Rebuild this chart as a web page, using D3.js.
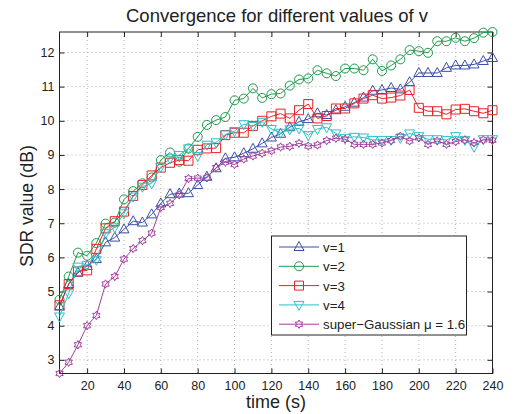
<!DOCTYPE html>
<html>
<head>
<meta charset="utf-8">
<script src="https://cdn.jsdelivr.net/npm/d3@7"></script>
<style>
body { margin: 0; background: #fff; }
text { font-family: "Liberation Sans", Arial, sans-serif; fill: #222; }
</style>
</head>
<body>
<svg id="chart" width="519" height="414"></svg>
<script>
const times = d3.range(5, 245, 5)

const v1 = [4.56, 5.22, 5.55, 5.75, 5.95, 6.44, 6.58, 6.82, 7.06, 7.02, 7.26, 7.58, 7.85, 7.87, 7.88, 8.12,
    8.36, 8.61, 8.9, 8.93, 9.05, 9.18, 9.34, 9.51, 9.62, 9.81, 9.97, 10.05, 10.22, 10.17, 10.31, 10.41,
    10.53, 10.68, 10.88, 10.9, 10.96, 10.92, 11.13, 11.4, 11.4, 11.4, 11.55, 11.62, 11.62, 11.65, 11.75, 11.84]
const v2 = [4.76, 5.44, 6.14, 6.05, 6.42, 6.99, 7.02, 7.7, 7.94, 8.17, 8.34, 8.85, 9.07, 8.8, 9.19, 9.53,
    9.88, 10.02, 10.11, 10.6, 10.65, 10.95, 10.67, 10.78, 10.8, 11.03, 11.21, 11.24, 11.48, 11.39, 11.31, 11.53,
    11.53, 11.48, 11.8, 11.46, 11.62, 11.8, 12.07, 12.04, 11.99, 12.33, 12.33, 12.43, 12.33, 12.42, 12.58, 12.6]
const v3 = [4.6, 5.22, 5.59, 5.62, 6.25, 6.85, 7.06, 7.34, 7.8, 8.12, 8.4, 8.63, 8.77, 8.85, 8.83, 9.15,
    9.19, 9.2, 9.58, 9.65, 9.65, 9.85, 10.0, 10.13, 10.21, 10.07, 10.31, 10.49, 10.07, 10.14, 10.36, 10.36,
    10.51, 10.65, 10.75, 10.65, 10.68, 10.74, 10.9, 10.38, 10.28, 10.28, 10.19, 10.33, 10.35, 10.28, 10.22, 10.31]
const v4 = [4.27, 4.95, 5.73, 5.78, 5.93, 6.71, 6.88, 7.29, 7.78, 8.07, 8.17, 8.65, 8.9, 9.0, 9.19, 8.97,
    9.3, 9.37, 9.6, 9.7, 9.9, 9.85, 9.97, 9.76, 9.65, 9.75, 9.78, 9.58, 9.76, 9.81, 9.63, 9.5,
    9.53, 9.51, 9.44, 9.44, 9.44, 9.5, 9.63, 9.55, 9.46, 9.46, 9.44, 9.55, 9.44, 9.24, 9.46, 9.46]
const superG = [2.6, 2.93, 3.44, 4.0, 4.3, 5.22, 5.44, 5.95, 6.26, 6.49, 6.71, 7.46, 7.58, 7.83, 8.31, 8.32,
    8.33, 8.63, 8.79, 8.72, 8.88, 8.97, 9.05, 9.12, 9.23, 9.25, 9.34, 9.26, 9.29, 9.42, 9.49, 9.46,
    9.31, 9.31, 9.31, 9.35, 9.42, 9.55, 9.41, 9.5, 9.31, 9.41, 9.31, 9.39, 9.44, 9.36, 9.44, 9.43]

const xTicks = d3.range(20, 241, 20)
const yTicks = d3.range(3, 13, 1)

const series = [
    {name: "v=1", values: v1, color: "#3a4fa6", marker: "triUp"},
    {name: "v=2", values: v2, color: "#1f9a4c", marker: "circle"},
    {name: "v=3", values: v3, color: "#ec2027", marker: "square"},
    {name: "v=4", values: v4, color: "#2cc1c6", marker: "triDown"},
    {name: "super\u2212Gaussian \u03bc = 1.6", values: superG, color: "#a13f9f", marker: "hex"}
]

const margin = {left: 59.5, right: 519 - 492.5, top: 32, bottom: 414 - 373.5}
const W = 519, H = 414
const svg = d3.select("#chart")

const allVals = series.flatMap(s => s.values)
const x = d3.scaleLinear().domain(d3.extent(times)).range([margin.left, W - margin.right])
const y = d3.scaleLinear().domain(d3.extent(allVals)).range([H - margin.bottom, margin.top])

// markers
function markerPath(type) {
    if (type === "circle") return d3.symbol(d3.symbolCircle, 64)()
    if (type === "square") return "M-4.5,-4.5H4.5V4.5H-4.5Z"
    if (type === "triUp") return "M0,-5.5L5,3.5L-5,3.5Z"
    if (type === "triDown") return "M0,5.5L5,-3.5L-5,-3.5Z"
    if (type === "hex") {
        let pts = []
        for (let i = 0; i < 12; i++) {
            const r = i % 2 === 0 ? 4.2 : 2.45
            const a = -Math.PI / 2 + i * Math.PI / 6
            pts.push([r * Math.cos(a), r * Math.sin(a)])
        }
        return "M" + pts.map(p => p[0].toFixed(2) + "," + p[1].toFixed(2)).join("L") + "Z"
    }
}

// grid
const grid = svg.append("g").attr("stroke", "#9a9a9a").attr("stroke-width", 0.8).attr("stroke-dasharray", "1,3")
xTicks.forEach(t => grid.append("line").attr("x1", x(t)).attr("x2", x(t)).attr("y1", margin.top).attr("y2", H - margin.bottom))
yTicks.forEach(t => grid.append("line").attr("y1", y(t)).attr("y2", y(t)).attr("x1", margin.left).attr("x2", W - margin.right))

// axes with inward ticks
const xAxisB = d3.axisBottom(x).tickValues(xTicks).tickSizeInner(-5).tickSizeOuter(0).tickPadding(8)
const xAxisT = d3.axisTop(x).tickValues(xTicks).tickSizeInner(-5).tickSizeOuter(0).tickFormat("")
const yAxisL = d3.axisLeft(y).tickValues(yTicks).tickSizeInner(-5).tickSizeOuter(0).tickPadding(5)
const yAxisR = d3.axisRight(y).tickValues(yTicks).tickSizeInner(-5).tickSizeOuter(0).tickFormat("")

svg.append("g").attr("transform", `translate(0,${H - margin.bottom})`).call(xAxisB)
svg.append("g").attr("transform", `translate(0,${margin.top})`).call(xAxisT)
svg.append("g").attr("transform", `translate(${margin.left},0)`).call(yAxisL)
svg.append("g").attr("transform", `translate(${W - margin.right},0)`).call(yAxisR)
svg.selectAll(".domain").remove()
svg.selectAll(".tick line").attr("stroke", "#222")
svg.selectAll(".tick text").style("font-size", "12.5px").style("font-family", "Liberation Sans, Arial, sans-serif").attr("fill", "#222")

svg.append("rect").attr("x", margin.left).attr("y", margin.top)
    .attr("width", W - margin.left - margin.right).attr("height", H - margin.top - margin.bottom)
    .attr("fill", "none").attr("stroke", "#222").attr("stroke-width", 1)

// series
const line = d3.line().x((d, i) => x(times[i])).y(d => y(d))
series.forEach(s => {
    const g = svg.append("g")
    g.append("path").attr("d", line(s.values)).attr("fill", "none").attr("stroke", s.color).attr("stroke-width", 1)
    g.selectAll("path.m").data(s.values).join("path").attr("class", "m")
        .attr("d", markerPath(s.marker))
        .attr("transform", (d, i) => `translate(${x(times[i])},${y(d)})`)
        .attr("fill", "none").attr("stroke", s.color).attr("stroke-width", 1)
})

// legend
const leg = svg.append("g")
leg.append("rect").attr("x", 271.5).attr("y", 236).attr("width", 195).attr("height", 99)
    .attr("fill", "#fff").attr("stroke", "#222").attr("stroke-width", 1)
series.forEach((s, i) => {
    const ly = 247 + i * 19.3
    leg.append("line").attr("x1", 279).attr("x2", 319).attr("y1", ly).attr("y2", ly).attr("stroke", s.color)
    leg.append("path").attr("d", markerPath(s.marker)).attr("transform", `translate(299,${ly})`)
        .attr("fill", "none").attr("stroke", s.color)
    leg.append("text").attr("x", 323).attr("y", ly + 5).style("font-size", "13.3px").text(s.name)
})

// titles
svg.append("text").attr("x", 277).attr("y", 22).attr("text-anchor", "middle").style("font-size", "18.5px")
    .text("Convergence for different values of v")
svg.append("text").attr("x", 276).attr("y", 408).attr("text-anchor", "middle").style("font-size", "18px")
    .text("time (s)")
svg.append("text").attr("transform", "translate(33,206) rotate(-90)").attr("text-anchor", "middle")
    .style("font-size", "17.5px").text("SDR value (dB)")
</script>
</body>
</html>
